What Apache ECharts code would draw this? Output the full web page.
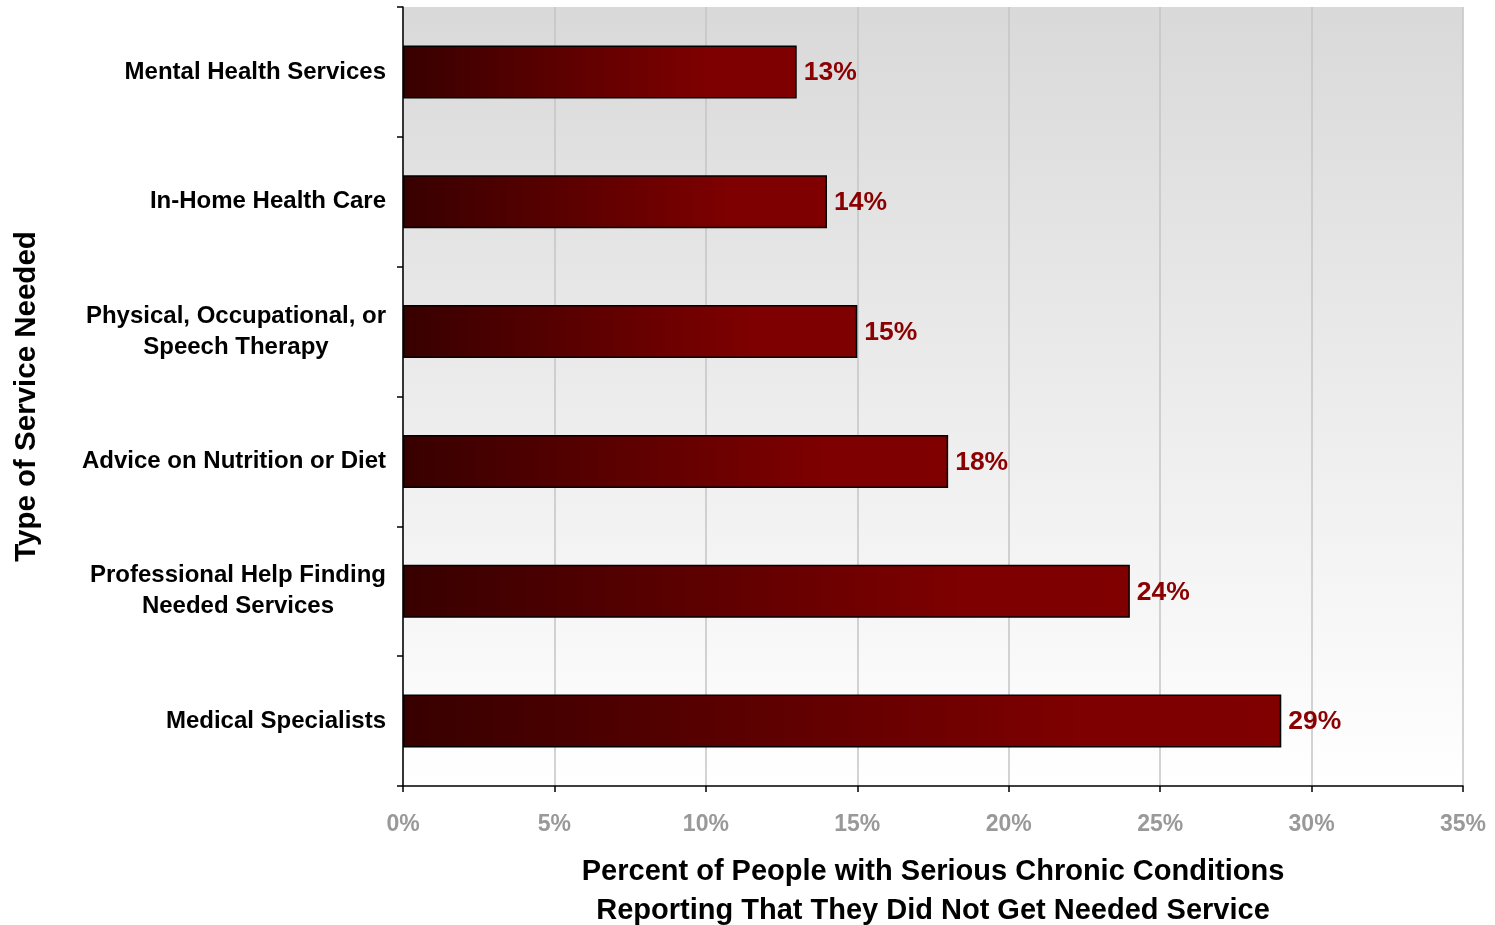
<!DOCTYPE html>
<html>
<head>
<meta charset="utf-8">
<script src="https://cdn.jsdelivr.net/npm/echarts@6/dist/echarts.min.js"></script>
<style>
html,body{margin:0;padding:0;background:#fff;}
#chart{width:1495px;height:925px;}
</style>
</head>
<body>
<div id="chart"></div>
<script>
const categories = [
  "Mental Health Services",
  "In-Home Health Care",
  "Physical, Occupational, or\nSpeech Therapy",
  "Advice on Nutrition or Diet",
  "Professional Help Finding\nNeeded Services",
  "Medical Specialists"
];
const values = [13, 14, 15, 18, 24, 29];
const xTickMin = 0, xTickMax = 35, xTickStep = 5;
const xAxisTitle = "Percent of People with Serious Chronic Conditions\nReporting That They Did Not Get Needed Service";
const yAxisTitle = "Type of Service Needed";

const FONT = "'Liberation Sans', Arial, sans-serif";
const chart = echarts.init(document.getElementById('chart'), null, {renderer: 'canvas'});
chart.setOption({
  animation: false,
  backgroundColor: '#ffffff',
  grid: {
    left: 403, right: 32, top: 7, bottom: 139,
    containLabel: false,
    outerBoundsMode: 'none',
    show: true,
    borderWidth: 0,
    backgroundColor: {
      type: 'linear', x: 0, y: 0, x2: 0, y2: 1,
      colorStops: [
        {offset: 0, color: '#d9d9d9'},
        {offset: 1, color: '#ffffff'}
      ]
    }
  },
  xAxis: {
    type: 'value',
    min: xTickMin, max: xTickMax, interval: xTickStep,
    name: xAxisTitle,
    nameLocation: 'middle',
    nameGap: 66,
    nameTextStyle: {fontFamily: FONT, fontSize: 29, fontWeight: 'bold', color: '#000', lineHeight: 39},
    axisLine: {show: true, lineStyle: {color: '#000', width: 1.5}},
    axisTick: {show: true, length: 6, lineStyle: {color: '#000', width: 1.5}},
    axisLabel: {formatter: '{value}%', fontFamily: FONT, fontSize: 23, fontWeight: 'bold', color: '#999999', margin: 27},
    splitLine: {show: true, lineStyle: {color: '#c4c4c4', width: 1.5}}
  },
  yAxis: {
    type: 'category',
    data: categories,
    inverse: true,
    name: yAxisTitle,
    nameLocation: 'middle',
    nameRotate: 90,
    nameGap: 361,
    nameTextStyle: {fontFamily: FONT, fontSize: 29.5, fontWeight: 'bold', color: '#000'},
    axisLine: {show: true, lineStyle: {color: '#000', width: 1.5}},
    axisTick: {show: true, length: 6, lineStyle: {color: '#000', width: 1.5}},
    axisLabel: {
      margin: 17,
      formatter: function (v) { return v.split('\n').map(function (s) { return '{a|' + s + '}'; }).join('\n'); },
      rich: {
        a: {align: 'center', fontFamily: FONT, fontSize: 24, fontWeight: 'bold', color: '#000', lineHeight: 31}
      }
    },
    splitLine: {show: false}
  },
  series: [{
    type: 'bar',
    data: values,
    barWidth: 53,
    itemStyle: {
      color: {
        type: 'linear', x: 0, y: 0, x2: 1, y2: 0,
        colorStops: [
          {offset: 0, color: '#380000'},
          {offset: 0.78, color: '#7f0000'},
          {offset: 1, color: '#800000'}
        ]
      },
      borderColor: '#000',
      borderWidth: 1.5
    },
    label: {
      show: true,
      position: 'right',
      distance: 7,
      offset: [0, 1],
      formatter: '{c}%',
      fontFamily: FONT, fontSize: 26.5, fontWeight: 'bold', color: '#8b0000'
    }
  }]
});
</script>
</body>
</html>
